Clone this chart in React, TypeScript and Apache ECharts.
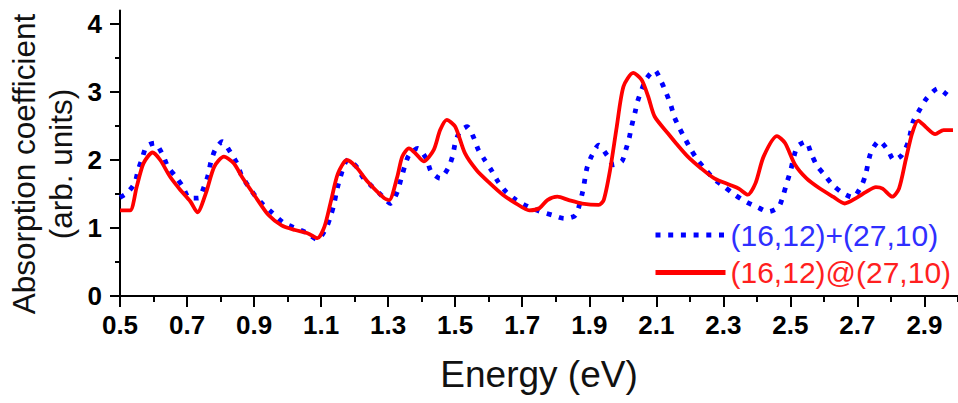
import React, { useEffect, useRef } from "react";
import * as echarts from "echarts";

// ---- axis ticks ----
const X_MAJOR = [0.5, 0.7, 0.9, 1.1, 1.3, 1.5, 1.7, 1.9, 2.1, 2.3, 2.5, 2.7, 2.9];
const X_MINOR = [0.6, 0.8, 1.0, 1.2, 1.4, 1.6, 1.8, 2.0, 2.2, 2.4, 2.6, 2.8, 3.0];
const Y_MAJOR = [0, 1, 2, 3, 4];
const Y_MINOR = [0.5, 1.5, 2.5, 3.5];

// ---- series names ----
const BLUE_NAME = "(16,12)+(27,10)";
const RED_NAME = "(16,12)@(27,10)";

// ---- (16,12)+(27,10) : blue dotted ----
const blueEnergy = [
  0.5, 0.52, 0.544, 0.554, 0.566, 0.579, 0.603, 0.628, 0.643, 0.667, 0.687, 0.707, 0.734, 0.751, 0.763,
  0.771, 0.784, 0.805, 0.83, 0.849, 0.862, 0.882, 0.904, 0.928, 0.955, 0.987, 1.022, 1.056, 1.089, 1.115,
  1.128, 1.138, 1.145, 1.155, 1.179, 1.204, 1.224, 1.248, 1.278, 1.307, 1.327, 1.339, 1.349, 1.362, 1.388,
  1.414, 1.428, 1.455, 1.48, 1.493, 1.5, 1.514, 1.536, 1.556, 1.569, 1.588, 1.608, 1.628, 1.652, 1.682,
  1.719, 1.756, 1.79, 1.825, 1.859, 1.88, 1.893, 1.908, 1.928, 1.953, 1.972, 1.997, 2.009, 2.019, 2.026,
  2.036, 2.044, 2.056, 2.071, 2.095, 2.115, 2.13, 2.143, 2.154, 2.169, 2.187, 2.204, 2.223, 2.243, 2.27,
  2.302, 2.334, 2.366, 2.4, 2.435, 2.465, 2.479, 2.489, 2.501, 2.509, 2.521, 2.546, 2.563, 2.58, 2.602,
  2.627, 2.657, 2.686, 2.711, 2.724, 2.74, 2.765, 2.79, 2.809, 2.832, 2.852, 2.866, 2.888, 2.907, 2.94,
  2.967, 2.985,
];
const blueValues = [
  1.45, 1.51, 1.66, 1.85, 2.02, 2.2, 2.25, 2.07, 1.9, 1.75, 1.61, 1.44, 1.44, 1.61, 1.78,
  1.97, 2.15, 2.27, 2.11, 1.95, 1.78, 1.62, 1.47, 1.34, 1.22, 1.08, 1.0, 0.93, 0.83, 1.0,
  1.17, 1.34, 1.51, 1.71, 2.0, 1.91, 1.75, 1.63, 1.49, 1.36, 1.53, 1.73, 1.9, 2.07, 2.17,
  2.02, 1.83, 1.73, 1.89, 2.07, 2.25, 2.42, 2.49, 2.32, 2.15, 2.0, 1.85, 1.68, 1.53, 1.41,
  1.31, 1.24, 1.19, 1.14, 1.19, 1.53, 1.88, 2.07, 2.22, 2.07, 1.93, 1.98, 2.15, 2.32, 2.49,
  2.69, 2.86, 3.03, 3.2, 3.32, 3.15, 2.98, 2.81, 2.63, 2.47, 2.3, 2.15, 2.0, 1.88, 1.73,
  1.61, 1.49, 1.39, 1.31, 1.24, 1.31, 1.49, 1.66, 1.85, 2.02, 2.2, 2.27, 2.08, 1.91, 1.78,
  1.63, 1.51, 1.45, 1.61, 1.78, 2.11, 2.28, 2.15, 2.0, 2.07, 2.27, 2.56, 2.76, 2.91, 3.05,
  2.96, 2.88,
];

// ---- (16,12)@(27,10) : red solid ----
const redEnergy = [
  0.5, 0.53, 0.55, 0.57, 0.597, 0.62, 0.65, 0.68, 0.71, 0.731, 0.756, 0.781, 0.81, 0.84, 0.864,
  0.904, 0.943, 0.982, 1.022, 1.061, 1.089, 1.11, 1.13, 1.15, 1.177, 1.204, 1.239, 1.288, 1.303, 1.327,
  1.342, 1.362, 1.381, 1.406, 1.436, 1.455, 1.475, 1.5, 1.529, 1.564, 1.603, 1.642, 1.682, 1.721, 1.751,
  1.775, 1.805, 1.839, 1.879, 1.928, 1.943, 1.962, 1.982, 2.002, 2.031, 2.056, 2.076, 2.095, 2.135, 2.16,
  2.194, 2.233, 2.273, 2.322, 2.346, 2.373, 2.396, 2.42, 2.46, 2.484, 2.514, 2.548, 2.588, 2.627, 2.662,
  2.696, 2.726, 2.755, 2.775, 2.804, 2.824, 2.844, 2.863, 2.881, 2.903, 2.932, 2.957, 2.985,
];
const redValues = [
  1.26, 1.26, 1.61, 1.95, 2.11, 2.0, 1.75, 1.56, 1.39, 1.23, 1.51, 1.9, 2.05, 1.95, 1.75,
  1.46, 1.19, 1.04, 0.97, 0.92, 0.85, 1.02, 1.41, 1.8, 2.0, 1.9, 1.68, 1.44, 1.41, 1.75,
  2.05, 2.17, 2.1, 1.98, 2.15, 2.44, 2.59, 2.49, 2.1, 1.85, 1.66, 1.49, 1.36, 1.26, 1.29,
  1.41, 1.46, 1.41, 1.36, 1.34, 1.41, 1.85, 2.49, 3.08, 3.28, 3.18, 2.93, 2.64, 2.39, 2.24,
  2.05, 1.88, 1.73, 1.63, 1.58, 1.49, 1.66, 2.05, 2.35, 2.25, 1.93, 1.73, 1.58, 1.46, 1.36,
  1.44, 1.53, 1.6, 1.58, 1.46, 1.58, 2.0, 2.39, 2.58, 2.49, 2.38, 2.44, 2.44,
];

const FONT = '"Liberation Sans", Arial, sans-serif';

export default function App() {
  const ref = useRef<HTMLDivElement>(null);

  useEffect(() => {
    if (!ref.current) return;
    const chart = echarts.init(ref.current, undefined, { renderer: "svg" });

    const bluePairs = blueEnergy.map((e, i) => [e, blueValues[i]]);
    const redPairs = redEnergy.map((e, i) => [e, redValues[i]]);

    const tickLabel = {
      color: "#000",
      fontFamily: FONT,
      fontWeight: "bold" as const,
      fontSize: 26,
    };

    chart.setOption({
      animation: false,
      backgroundColor: "#fff",
      grid: { left: 120, right: -8, top: 10.4, bottom: 107, containLabel: false },
      xAxis: [
        {
          type: "value",
          min: 0.5,
          max: 3.0,
          position: "bottom",
          axisLine: { show: true, onZero: false, lineStyle: { color: "#000", width: 2 } },
          axisTick: { show: true, customValues: X_MAJOR, length: 11, lineStyle: { color: "#000", width: 2 } },
          axisLabel: {
            show: true,
            customValues: X_MAJOR,
            margin: 16,
            formatter: (v: number) => v.toFixed(1),
            ...tickLabel,
          },
          splitLine: { show: false },
          name: "Energy (eV)",
          nameLocation: "middle",
          nameGap: 60,
          nameTextStyle: { color: "#111", fontFamily: FONT, fontSize: 37 },
        },
        {
          type: "value",
          min: 0.5,
          max: 3.0,
          position: "bottom",
          axisLine: { show: false, onZero: false },
          axisTick: { show: true, customValues: X_MINOR, length: 6, lineStyle: { color: "#000", width: 2 } },
          axisLabel: { show: false },
          splitLine: { show: false },
        },
      ],
      yAxis: [
        {
          type: "value",
          min: 0,
          max: 4.2,
          position: "left",
          axisLine: { show: true, onZero: false, lineStyle: { color: "#000", width: 2 } },
          axisTick: { show: true, customValues: Y_MAJOR, length: 10, lineStyle: { color: "#000", width: 2 } },
          axisLabel: {
            show: true,
            customValues: Y_MAJOR,
            margin: 18,
            formatter: (v: number) => String(v),
            ...tickLabel,
          },
          splitLine: { show: false },
        },
        {
          type: "value",
          min: 0,
          max: 4.2,
          position: "left",
          axisLine: { show: false, onZero: false },
          axisTick: { show: true, customValues: Y_MINOR, length: 5, lineStyle: { color: "#000", width: 2 } },
          axisLabel: { show: false },
          splitLine: { show: false },
        },
      ],
      legend: {
        orient: "vertical",
        left: 648,
        top: 215,
        itemWidth: 70,
        itemHeight: 14,
        itemGap: 7.5,
        selectedMode: false,
        itemStyle: { opacity: 0 },
        textStyle: { fontFamily: FONT, fontSize: 30, lineHeight: 30 },
        data: [
          {
            name: BLUE_NAME,
            textStyle: { color: "#2f2fff" },
            lineStyle: { width: 5, type: [5, 7.7], cap: "butt" },
            itemStyle: { opacity: 0 },
          },
          {
            name: RED_NAME,
            textStyle: { color: "#ff1f1f" },
            lineStyle: { width: 5 },
            itemStyle: { opacity: 0 },
          },
        ],
      },
      graphic: [
        {
          type: "text",
          x: 42,
          y: 164,
          rotation: Math.PI / 2,
          style: {
            text: "Absorption coefficient\n(arb. units)",
            fontFamily: FONT,
            fontSize: 31.5,
            lineHeight: 37,
            fill: "#111",
            textAlign: "center",
            textVerticalAlign: "middle",
          },
        },
      ],
      series: [
        {
          type: "line",
          name: BLUE_NAME,
          xAxisIndex: 0,
          yAxisIndex: 0,
          data: bluePairs,
          symbol: "none",
          showSymbol: false,
          smooth: 0.25,
          itemStyle: { color: "#0000ff" },
          lineStyle: { color: "#0000ff", width: 4.8, type: [4.8, 7.8], cap: "butt" },
          z: 2,
        },
        {
          type: "line",
          name: RED_NAME,
          xAxisIndex: 0,
          yAxisIndex: 0,
          data: redPairs,
          symbol: "none",
          showSymbol: false,
          smooth: 0.25,
          itemStyle: { color: "#ff0000" },
          lineStyle: { color: "#ff0000", width: 3.8 },
          z: 3,
        },
      ],
    });

    return () => {
      chart.dispose();
    };
  }, []);

  return (
    <div
      ref={ref}
      style={{ position: "fixed", left: 0, top: 0, width: 958, height: 403, background: "#fff" }}
    />
  );
}
